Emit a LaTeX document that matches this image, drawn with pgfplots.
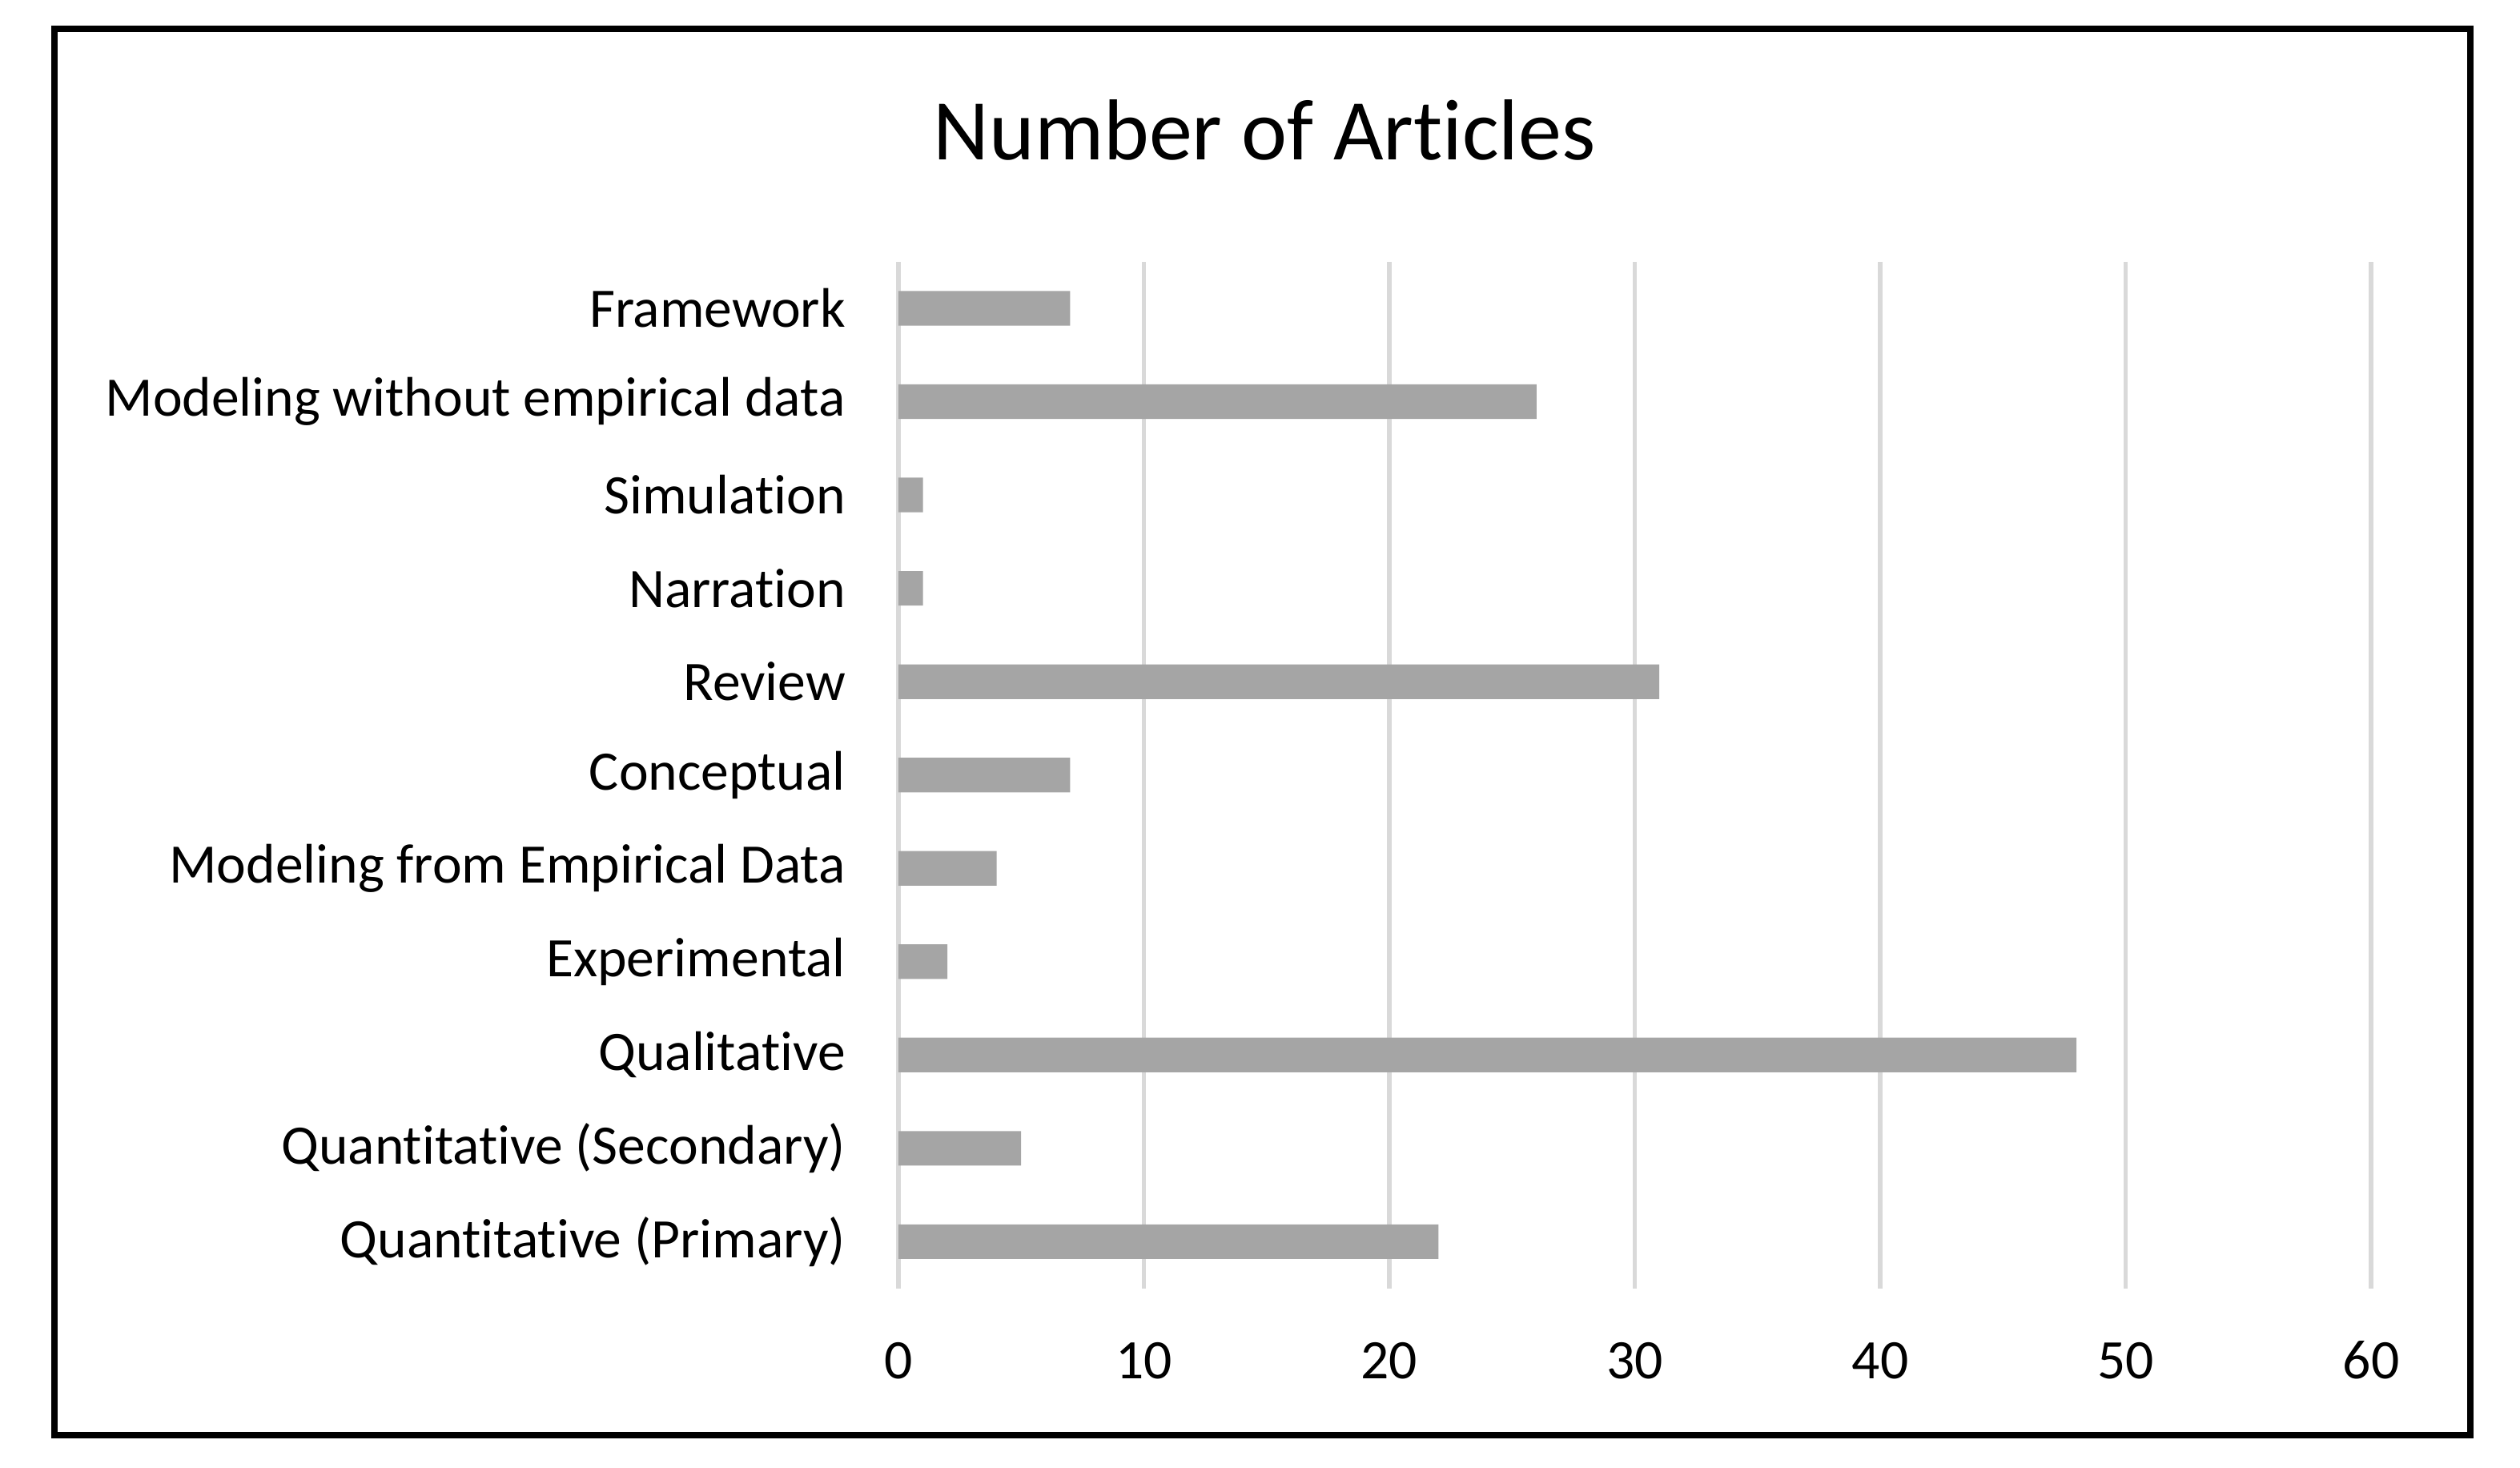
\documentclass[border=0pt]{standalone}
\usepackage{pgfplots}
\pgfplotsset{compat=1.18}
\usepackage{fontspec}
\setmainfont{Carlito}[RawFeature={-liga;-clig;-calt}]

\definecolor{bargray}{HTML}{A5A5A5}
\definecolor{gridgray}{HTML}{D9D9D9}

\begin{document}
\begin{tikzpicture}
  \useasboundingbox (0,0) rectangle (393.4pt,229.1pt);
  \draw[line width=1pt] (8.5pt,5.1pt) rectangle (385.6pt,224.6pt);
  \node[anchor=base, inner sep=0pt, font=\fontsize{13.5pt}{16pt}\selectfont]
    at (197.4pt,204.1pt) {Number of Articles};
  \begin{axis}[
    at={(140.25pt,28pt)}, anchor=south west,
    scale only axis,
    width=229.9pt, height=160.25pt,
    xbar,
    bar width=5.4pt,
    xmin=0, xmax=60,
    xtick distance=10,
    ymin=-0.5, ymax=10.5,
    ytick={0,...,10},
    yticklabels={Quantitative (Primary), Quantitative (Secondary), Qualitative,
      Experimental, Modeling from Empirical Data, Conceptual, Review,
      Narration, Simulation, Modeling without empirical data, Framework},
    xmajorgrids,
    major grid style={gridgray, line width=0.7pt},
    axis line style={draw=none},
    tick style={draw=none},
    ticklabel style={font=\fontsize{8.7pt}{10pt}\selectfont, inner sep=0pt},
    /pgf/number format/assume math mode=true,
    xticklabel style={anchor=base, yshift=-14.1pt},
    yticklabel style={anchor=east, xshift=-3.8pt},
    clip=false,
  ]
    \addplot[fill=bargray, draw=none] coordinates {
      (22,0) (5,1) (48,2) (2,3) (4,4) (7,5) (31,6) (1,7) (1,8) (26,9) (7,10)
    };
  \end{axis}
\end{tikzpicture}
\end{document}
